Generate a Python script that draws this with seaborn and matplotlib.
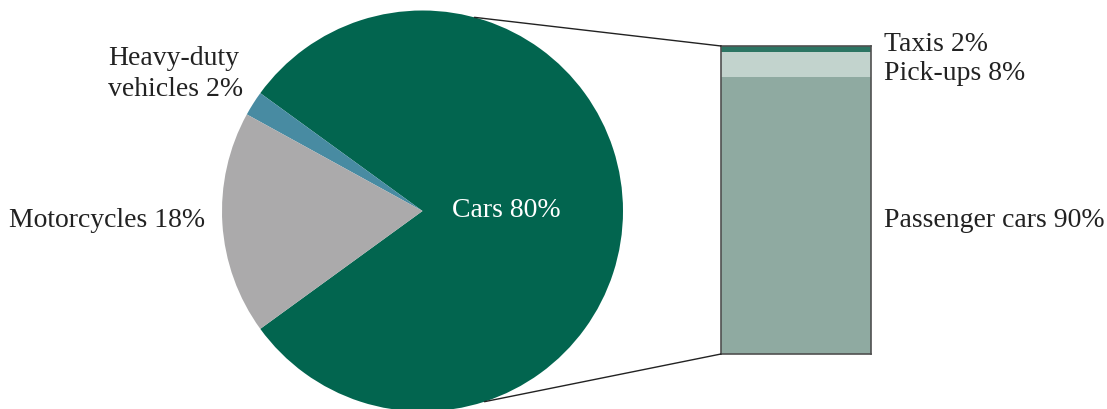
import matplotlib
matplotlib.use("Agg")
import matplotlib.pyplot as plt
from matplotlib.patches import ConnectionPatch
import numpy as np
import seaborn as sns

# Vehicle fleet shares
pie_labels = ["Cars", "Heavy-duty\nvehicles", "Motorcycles"]
pie_values = [80, 2, 18]
pie_colors = ["#02654F", "#488BA2", "#ABAAAB"]

# Breakdown of the cars slice
bar_labels = ["Passenger cars", "Pick-ups", "Taxis"]
bar_values = [90, 8, 2]
bar_colors = ["#8FAAA1", "#C2D3CD", "#2C7563"]

sns.set_theme(style="white")
plt.rcParams["font.family"] = ["Liberation Serif", "DejaVu Serif"]

W, H = 1107, 410
fig = plt.figure(figsize=(W / 100, H / 100), dpi=100)

# Pie axes: centre (422.5, 212) px from top-left, radius 200.5 px
cx, cy, r = 422.5, 212.0, 200.5
pad = 1.02
half = r * pad
ax_pie = fig.add_axes([(cx - half) / W, (H - cy - half) / H, 2 * half / W, 2 * half / H])
ax_pie.pie(pie_values, colors=pie_colors, startangle=-144, counterclock=True,
           radius=1, wedgeprops=dict(linewidth=0))
ax_pie.set_xlim(-pad, pad)
ax_pie.set_ylim(-pad, pad)
ax_pie.set_aspect("equal")
ax_pie.axis("off")

fs = 20
text_kw = dict(fontsize=fs, color="#222222")
ax_pie.text(0.416, -0.025, f"{pie_labels[0]} {pie_values[0]}%", ha="center",
            va="baseline", fontsize=fs, color="white")
ax_pie.text(-0.895, 0.69, f"{pie_labels[1]} {pie_values[1]}%", ha="right",
            va="center", multialignment="left", linespacing=1.3, **text_kw)
ax_pie.text(-1.085, -0.075, f"{pie_labels[2]} {pie_values[2]}%", ha="right",
            va="baseline", **text_kw)

# Stacked bar axes
bx0, bx1, by0, by1 = 721, 871, 47, 355
ax_bar = fig.add_axes([bx0 / W, (H - by1) / H, (bx1 - bx0) / W, (by1 - by0) / H])
cum = np.cumsum(bar_values)
# draw tallest first so shorter stacks sit on top
for top, col in zip(cum[::-1], bar_colors[::-1]):
    sns.barplot(x=[0], y=[top], color=col, saturation=1, width=1,
                linewidth=0, ax=ax_bar)
ax_bar.set_xlim(-0.5, 0.5)
ax_bar.set_ylim(0, cum[-1])
ax_bar.set_xticks([])
ax_bar.set_yticks([])
ax_bar.set_xlabel("")
ax_bar.set_ylabel("")
for sp in ax_bar.spines.values():
    sp.set_visible(True)
    sp.set_color("#505050")
    sp.set_linewidth(1.2)

label_y = [41.6, 89.3, 98.7]
for lab, val, yy in zip(bar_labels, bar_values, label_y):
    ax_bar.text(0.587, yy, f"{lab} {val}%", ha="left", va="baseline",
                clip_on=False, **text_kw)

# Connector lines from the cars slice to the bar
for ang, ybar in [(75, cum[-1]), (-72, 0)]:
    t = np.deg2rad(ang)
    con = ConnectionPatch(xyA=(np.cos(t), np.sin(t)), coordsA=ax_pie.transData,
                          xyB=(-0.5, ybar), coordsB=ax_bar.transData,
                          color="#222222", linewidth=1.0)
    fig.add_artist(con)

fig.savefig("out.png", dpi=100)
